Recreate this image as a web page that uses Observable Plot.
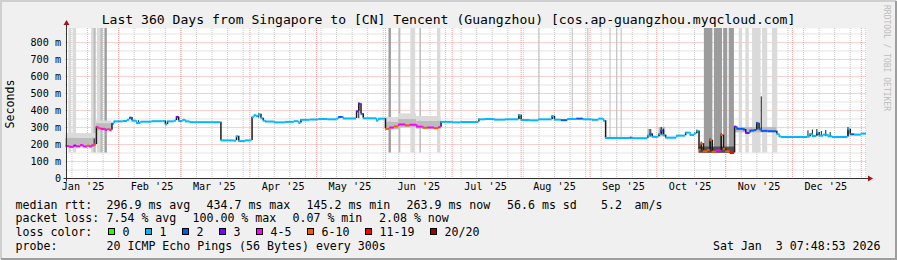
<!DOCTYPE html>
<html><head><meta charset="utf-8">
<script src="https://cdn.jsdelivr.net/npm/d3@7"></script>
<script src="https://cdn.jsdelivr.net/npm/@observablehq/plot@0.6"></script>
<style>
html,body{margin:0;padding:0;background:#fff;}
#chart{position:relative;width:897px;height:260px;overflow:hidden;}
#chart svg{position:absolute;left:0;top:0;}
</style></head><body><div id="chart"></div>
<script>
// ---------------- DATA ----------------
const title = "Last 360 Days from Singapore to [CN] Tencent (Guangzhou) [cos.ap-guangzhou.myqcloud.com]";
const yUnit = "Seconds";
const yTickValues = [0, 100, 200, 300, 400, 500, 600, 700, 800];
const yTickLabels = ["0", "100 m", "200 m", "300 m", "400 m", "500 m", "600 m", "700 m", "800 m"];
const monthLabels = ["Jan '25","Feb '25","Mar '25","Apr '25","May '25","Jun '25","Jul '25","Aug '25","Sep '25","Oct '25","Nov '25","Dec '25"];
const rangeStart = "2025-01-08T07:48:53Z";
const rangeEnd = "2026-01-03T07:48:53Z";
const yTop = 882;

// median rtt (ms) as steps: start date, value, loss class index
const medDates = ["2025-01-08","2025-01-10","2025-01-12","2025-01-13","2025-01-15","2025-01-16","2025-01-18","2025-01-19","2025-01-20","2025-01-21",
"2025-01-22","2025-01-23","2025-01-24","2025-01-26","2025-01-27","2025-01-28","2025-01-29","2025-01-30","2025-02-03","2025-02-05",
"2025-02-06","2025-02-07","2025-02-09","2025-02-11","2025-02-16","2025-02-21","2025-02-22","2025-02-23","2025-02-26","2025-02-27",
"2025-02-28","2025-03-02","2025-03-03","2025-03-05","2025-03-19","2025-03-25","2025-03-26","2025-03-27","2025-03-30","2025-04-02",
"2025-04-03","2025-04-04","2025-04-05","2025-04-06","2025-04-07","2025-04-08","2025-04-12","2025-04-17","2025-04-21","2025-04-23",
"2025-04-24","2025-04-28","2025-05-02","2025-05-06","2025-05-10","2025-05-11","2025-05-13","2025-05-19","2025-05-20","2025-05-21",
"2025-05-22","2025-05-28","2025-05-29","2025-06-01","2025-06-03","2025-06-05","2025-06-07","2025-06-10","2025-06-12","2025-06-15",
"2025-06-18","2025-06-20","2025-06-23","2025-06-25","2025-06-26","2025-07-01","2025-07-05","2025-07-13","2025-07-16","2025-07-20",
"2025-07-25","2025-07-31","2025-08-01","2025-08-05","2025-08-09","2025-08-15","2025-08-16","2025-08-19","2025-08-22","2025-08-26",
"2025-08-29","2025-09-02","2025-09-05","2025-09-07","2025-09-08","2025-09-19","2025-09-20","2025-09-27","2025-09-28","2025-09-29",
"2025-10-02","2025-10-03","2025-10-04","2025-10-05","2025-10-10","2025-10-14","2025-10-16","2025-10-18","2025-10-19","2025-10-20",
"2025-10-21","2025-10-22","2025-10-24","2025-10-25","2025-10-26","2025-10-28","2025-10-30","2025-10-31","2025-11-01","2025-11-03",
"2025-11-05","2025-11-06","2025-11-09","2025-11-10","2025-11-12","2025-11-14","2025-11-15","2025-11-16","2025-11-17","2025-11-20",
"2025-11-24","2025-11-25","2025-11-26","2025-12-08","2025-12-09","2025-12-10","2025-12-12","2025-12-13","2025-12-15","2025-12-17",
"2025-12-19","2025-12-26","2025-12-27","2025-12-29","2026-01-01"];
const medVals = [190,186,194,189,197,188,193,187,195,200,
302,296,292,286,290,284,322,336,338,345,
358,340,326,334,337,338,318,336,340,362,
338,345,336,331,224,222,248,220,224,360,
372,366,378,355,340,335,330,333,337,326,
345,347,350,348,352,362,353,395,440,380,
354,340,352,292,300,306,318,312,316,305,
298,300,296,302,333,330,332,348,350,346,
348,372,344,342,348,366,346,343,350,352,
348,345,352,340,238,240,237,252,262,245,
262,282,255,240,252,270,256,265,280,170,
205,160,168,225,158,165,255,175,160,150,
305,292,288,268,282,285,325,290,280,278,
262,248,244,246,262,250,270,252,258,248,
244,290,260,258,264];
const medLoss = [4,4,3,4,4,4,5,4,4,5,
4,5,4,4,5,4,2,1,1,1,
2,1,1,1,1,1,1,1,1,3,
1,1,1,1,1,1,1,1,1,1,
1,1,1,1,1,1,1,1,1,1,
1,1,1,1,1,2,1,3,3,2,
1,1,1,5,4,5,4,5,4,4,
5,4,5,4,1,1,1,1,1,1,
1,1,1,1,1,1,1,2,1,2,
1,1,1,1,1,2,1,1,2,1,
1,2,1,1,1,1,1,1,1,5,
5,5,5,5,5,4,5,5,5,6,
3,2,2,3,2,2,2,2,2,2,
1,1,1,1,1,1,1,1,1,1,
1,1,2,1,1];

// smoke bands (spread of the pings): from, to, low ms, high ms, tone (0 darkest .. 3 lightest)
const smokeFrom = ["2025-01-08","2025-01-08","2025-01-22","2025-01-22",
"2025-06-01","2025-06-01","2025-06-07","2025-06-07","2025-06-15","2025-06-15",
"2025-10-20","2025-11-05","2025-09-27","2025-10-02"];
const smokeTo   = ["2025-01-22","2025-01-22","2025-01-29","2025-01-29",
"2025-06-07","2025-06-07","2025-06-15","2025-06-15","2025-06-26","2025-06-26",
"2025-11-05","2025-11-24","2025-09-29","2025-10-05"];
const smokeLo   = [183,238,280,322, 286,332, 298,348, 290,338, 148,268,240,245];
const smokeHi   = [238,264,324,338, 332,358, 348,380, 338,365, 185,300,288,300];
const smokeTone = [2,3,2,3, 2,3,2,3,2,3, 0,2,2,2];

// tall smoke bars reaching the top of the graph
const barFrom = ["2025-01-09T14","2025-01-11T14","2025-01-19T20","2025-01-20T20","2025-01-22T10","2025-01-23T22","2025-01-25T20",
"2025-06-02T14","2025-06-07T02","2025-06-12T10","2025-06-16T12","2025-06-24T10",
"2025-10-22T10","2025-10-26T22","2025-10-31T02","2025-11-02T14",
"2025-11-07T02","2025-11-10T02","2025-11-13T02","2025-11-17T14","2025-11-22T02"];
const barTo = ["2025-01-10T20","2025-01-13T02","2025-01-20T20","2025-01-21T22","2025-01-23T22","2025-01-25T02","2025-01-26T22",
"2025-06-03T16","2025-06-07T22","2025-06-14T14","2025-06-17T04","2025-06-25T22",
"2025-10-26T06","2025-10-30T14","2025-11-01T22","2025-11-04T22",
"2025-11-08T14","2025-11-11T14","2025-11-16T22","2025-11-19T22","2025-11-24T10"];
const barTone = [3,3,3,2,3,2,1, 1,2,3,2,3, 1,1,1,1, 3,3,3,3,3];

// single light outliers reaching the top
const outlierDates = ["2025-08-09","2025-08-24","2025-08-31","2025-09-10","2025-09-13","2025-09-15"];
const outlierLo = [348,350,348,238,238,238];

// dark smoke spikes: date, low ms, high ms
const spikeDates = ["2025-01-08T12","2025-01-21","2025-02-10","2025-04-05","2025-05-20","2025-07-31","2025-08-15","2025-09-28","2025-10-03","2025-10-04","2025-10-19","2025-10-21","2025-10-25","2025-10-30","2025-11-15","2025-11-17","2025-12-08","2025-12-10","2025-12-12","2025-12-14","2025-12-16","2025-12-18","2025-12-26"];
const spikeLo = [188,190,326,355,352,346,346,245,255,250,262,160,158,165,285,280,245,246,248,246,246,246,250];
const spikeHi = [235,232,340,380,444,376,370,288,300,290,284,214,233,263,330,480,280,285,288,276,282,270,300];

const lossLabels = ["0","1","2","3","4-5","6-10","11-19","20/20"];
const lossColors = ["#26ff00","#00b8ff","#0059ff","#7e00ff","#ff00ff","#ff5500","#ff0000","#a10000"];

const legendRtt  = ["median rtt:", "296.9 ms avg", "434.7 ms max", "145.2 ms min", "263.9 ms now", "56.6 ms sd", "5.2", "am/s"];
const legendLoss = ["packet loss:", "7.54 % avg", "100.00 % max", "0.07 % min", "2.08 % now"];
const legendColorTitle = "loss color:";
const probeLabel = "probe:";
const probeText = "20 ICMP Echo Pings (56 Bytes) every 300s";
const stamp = "Sat Jan  3 07:48:53 2026";
const watermark = "RRDTOOL / TOBI OETIKER";

// ---------------- BUILD ----------------
const parse = s => new Date(s.length === 10 ? s + "T00:00:00Z" : (s.endsWith("Z") ? s : s + ":00:00Z"));
const x0 = parse(rangeStart), x1 = parse(rangeEnd);
const clampT = d => d < x0 ? x0 : (d > x1 ? x1 : d);

const med = medDates.map((d, i) => ({
  t1: clampT(parse(d)),
  t2: i < medDates.length - 1 ? clampT(parse(medDates[i + 1])) : x1,
  v: medVals[i], c: lossColors[medLoss[i]]
}));
const conn = med.slice(1).map((d, i) => {
  const a = med[i].v, b = d.v;
  return {t: d.t1, y1: a, y2: b, c: Math.abs(a - b) > 14 ? "#1a1a1a" : d.c};
});
const toneColor = ["#505050", "#9c9c9c", "#bcbcbc", "#dadada"];
const smoke = smokeFrom.map((d, i) => ({t1: clampT(parse(d)), t2: clampT(parse(smokeTo[i])), lo: smokeLo[i], hi: smokeHi[i], c: toneColor[smokeTone[i]]}));
const bars = barFrom.map((d, i) => ({t1: parse(d), t2: parse(barTo[i]), lo: 150, hi: yTop, c: toneColor[barTone[i]]}));
const outliers = outlierDates.map((d, i) => ({t: parse(d), lo: outlierLo[i], hi: yTop}));
const spikes = spikeDates.map((d, i) => ({t: clampT(parse(d)), lo: spikeLo[i], hi: spikeHi[i]}));

const months = d3.utcMonth.range(x0, x1);
const weeks = d3.utcSaturday.range(x0, x1);
const labelDates = d3.utcMonth.range(d3.utcMonth.floor(x0), x1).map(d => d3.utcDay.offset(d, 15)).filter(d => d >= x0 && d <= x1);
const minorY = d3.range(50, yTop, 100);

const W = 897, H = 260, mL = 65.5, mR = 31, mT = 28, mB = 82;
const fmtMonth = d => monthLabels[d.getUTCMonth()];

const chart = Plot.plot({
  width: W, height: H,
  marginLeft: mL, marginRight: mR, marginTop: mT, marginBottom: mB,
  style: {background: "#f0f0f0", fontFamily: "'DejaVu Sans Mono', monospace", fontSize: "10.15px", color: "#000", overflow: "visible"},
  color: {type: "identity"},
  x: {type: "utc", domain: [x0, x1], ticks: labelDates, tickFormat: fmtMonth, tickSize: 0, tickPadding: 4, label: null},
  y: {domain: [0, yTop], ticks: yTickValues, tickFormat: d => yTickLabels[yTickValues.indexOf(d)], tickSize: 0, tickPadding: 5, label: null},
  marks: [
    Plot.frame({fill: "white", stroke: "none"}),
    Plot.ruleY(minorY, {stroke: "#c8c8c8", strokeDasharray: "1,1"}),
    Plot.ruleX(weeks, {stroke: "#c8c8c8", strokeDasharray: "1,1"}),
    Plot.ruleY(yTickValues.filter(v => v > 0), {stroke: "#f4a0a0", strokeDasharray: "1,1"}),
    Plot.ruleX(months, {stroke: "#f4a0a0", strokeDasharray: "1,1"}),
    Plot.ruleX(outliers, {x: "t", y1: "lo", y2: "hi", stroke: "#bdbdbd"}),
    Plot.rectY(bars, {x1: "t1", x2: "t2", y1: "lo", y2: "hi", fill: "c"}),
    Plot.rectY(smoke, {x1: "t1", x2: "t2", y1: "lo", y2: "hi", fill: "c"}),
    Plot.ruleX(spikes, {x: "t", y1: "lo", y2: "hi", stroke: "#1a1a1a"}),
    Plot.ruleX(conn, {x: "t", y1: "y1", y2: "y2", stroke: "c", strokeWidth: 1.5}),
    Plot.ruleY(med, {y: "v", x1: "t1", x2: "t2", stroke: "c", strokeWidth: 2})
  ]
});
document.getElementById("chart").appendChild(chart);

// ---------------- DECORATION (rrdtool frame, axes, texts) ----------------
const xS = d3.scaleUtc([x0, x1], [mL, W - mR]);
const yS = d3.scaleLinear([0, yTop], [H - mB, mT]);
const svg = d3.select(chart);
const deco = svg.append("g").attr("text-anchor", "start");
const ax = Math.round(xS(x0)) + 0.5, ay = Math.round(yS(0)) + 0.5;
// borders
deco.append("path").attr("d", `M1,${H-1}V1H${W-1}`).attr("fill", "none").attr("stroke", "#cfcfcf").attr("stroke-width", 2);
deco.append("path").attr("d", `M1,${H-1}H${W-1}V1`).attr("fill", "none").attr("stroke", "#9e9e9e").attr("stroke-width", 2);
// axes
deco.append("line").attr("x1", ax - 3).attr("x2", W - mR + 3).attr("y1", ay).attr("y2", ay).attr("stroke", "#333");
deco.append("line").attr("x1", ax).attr("x2", ax).attr("y1", ay + 3).attr("y2", mT - 4).attr("stroke", "#333");
deco.append("path").attr("d", `M${ax-3},${mT-3}L${ax},${mT-8}L${ax+3},${mT-3}Z`).attr("fill", "#a31515");
deco.append("path").attr("d", `M${W-mR+2},${ay-3}L${W-mR+7},${ay}L${W-mR+2},${ay+3}Z`).attr("fill", "#a31515");
// title
deco.append("text").attr("x", 448.5).attr("y", 24).attr("text-anchor", "middle")
  .style("font-size", "13.1px").style("white-space", "pre").text(title);
// unit
deco.append("text").attr("transform", "translate(14,104) rotate(-90)").attr("text-anchor", "middle")
  .style("font-size", "11.6px").text(yUnit);
// watermark
deco.append("text").attr("transform", "translate(884,5) rotate(90)").attr("text-anchor", "start")
  .style("font-size", "8px").attr("fill", "#bdbdbd").text(watermark);
// legend
const lg = deco.append("g").attr("text-anchor", "start").style("font-size", "11.6px").style("white-space", "pre");
const rowY = [208.5, 222.2, 235.9, 249.6];
const rttX = [15.5, 106.5, 206.5, 306.5, 406.5, 507, 601, 634.5];
legendRtt.forEach((s, i) => lg.append("text").attr("x", rttX[i]).attr("y", rowY[0]).text(s));
const lossX = [15.5, 106.5, 192.5, 292.5, 379];
legendLoss.forEach((s, i) => lg.append("text").attr("x", lossX[i]).attr("y", rowY[1]).text(s));
lg.append("text").attr("x", 15.5).attr("y", rowY[2]).text(legendColorTitle);
let sx = 108;
lossLabels.forEach((s, i) => {
  lg.append("rect").attr("x", sx + 0.5).attr("y", 228.5).attr("width", 6).attr("height", 6)
    .attr("fill", lossColors[i]).attr("stroke", "#000");
  lg.append("text").attr("x", sx + 14.5).attr("y", rowY[2]).text(s);
  sx = sx + 15 + s.length * 7 + 15;
});
lg.append("text").attr("x", 15.5).attr("y", rowY[3]).text(probeLabel);
lg.append("text").attr("x", 106.5).attr("y", rowY[3]).text(probeText);
lg.append("text").attr("x", 880.5).attr("y", rowY[3]).attr("text-anchor", "end").text(stamp);
</script></body></html>
